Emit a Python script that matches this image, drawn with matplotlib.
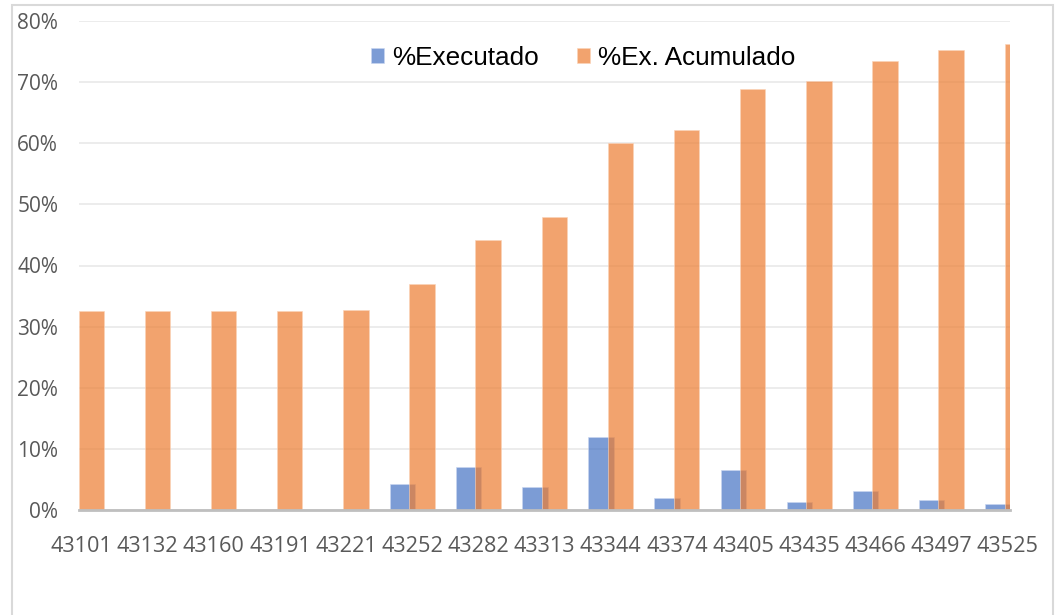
import numpy as np
import matplotlib
matplotlib.use("Agg")
import matplotlib.pyplot as plt
from matplotlib.patches import Rectangle
from matplotlib.ticker import PercentFormatter

# category labels (Excel date serials)
categories = ["43101", "43132", "43160", "43191", "43221", "43252", "43282",
              "43313", "43344", "43374", "43405", "43435", "43466", "43497", "43525"]

# monthly executed %
executado = [0.0, 0.0, 0.0, 0.0, 0.0, 4.2, 7.1, 3.7, 11.9, 2.0, 6.6, 1.3, 3.1, 1.6, 0.9]

# accumulated executed %
acumulado = [32.6, 32.6, 32.6, 32.6, 32.7, 36.9, 44.1, 48.0, 60.0, 62.1, 68.9, 70.2,
             73.4, 75.2, 76.2]

W, H = 1055, 615
plt.rcParams['font.family'] = ['Open Sans', 'DejaVu Sans']

fig = plt.figure(figsize=(W / 100, H / 100), dpi=100)

# outer chart border
fig.patches.append(Rectangle((12 / W, 1 - 620 / H), (1053 - 12) / W, (620 - 5) / H,
                             transform=fig.transFigure, fill=False,
                             edgecolor='#D9D9D9', linewidth=1.5))

ax = fig.add_axes([79 / W, 1 - 510 / H, (1010 - 79) / W, (510 - 21) / H])

x = np.arange(len(categories))
width = 0.385
offset = 0.147

ax.bar(x - offset, executado, width, color='#4472C4', alpha=0.7,
       edgecolor='#C9D6F0', linewidth=0.6, label='%Executado', zorder=2)
ax.bar(x + offset, acumulado, width, color='#ED7D31', alpha=0.7,
       edgecolor='#FAD3B8', linewidth=0.6, label='%Ex. Acumulado', zorder=3)

ax.set_xlim(-0.038, 14.036)
ax.set_ylim(0, 80)
ax.set_yticks(np.arange(0, 81, 10))
ax.yaxis.set_major_formatter(PercentFormatter(decimals=0))
ax.set_xticks(x)
ax.set_xticklabels(categories)

ax.grid(axis='y', color='#EBEBEB', linewidth=1.3, zorder=0)
ax.set_axisbelow(True)

for side in ['top', 'right', 'left']:
    ax.spines[side].set_visible(False)
ax.spines['bottom'].set_color('#BFBFBF')
ax.spines['bottom'].set_linewidth(2.0)
ax.spines['bottom'].set_zorder(4)

ax.tick_params(axis='y', length=0, pad=15, labelsize=15, labelcolor='#595959')
ax.tick_params(axis='x', length=0, pad=18.5, labelsize=15.6, labelcolor='#595959')

leg = fig.legend(loc='center', bbox_to_anchor=(583 / W, 1 - 58 / H), ncol=2,
                 frameon=False, prop={'family': 'Liberation Sans', 'size': 18.8},
                 handlelength=0.5, handleheight=0.5, handletextpad=0.3,
                 columnspacing=1.45)

fig.savefig('out.png', dpi=100)
